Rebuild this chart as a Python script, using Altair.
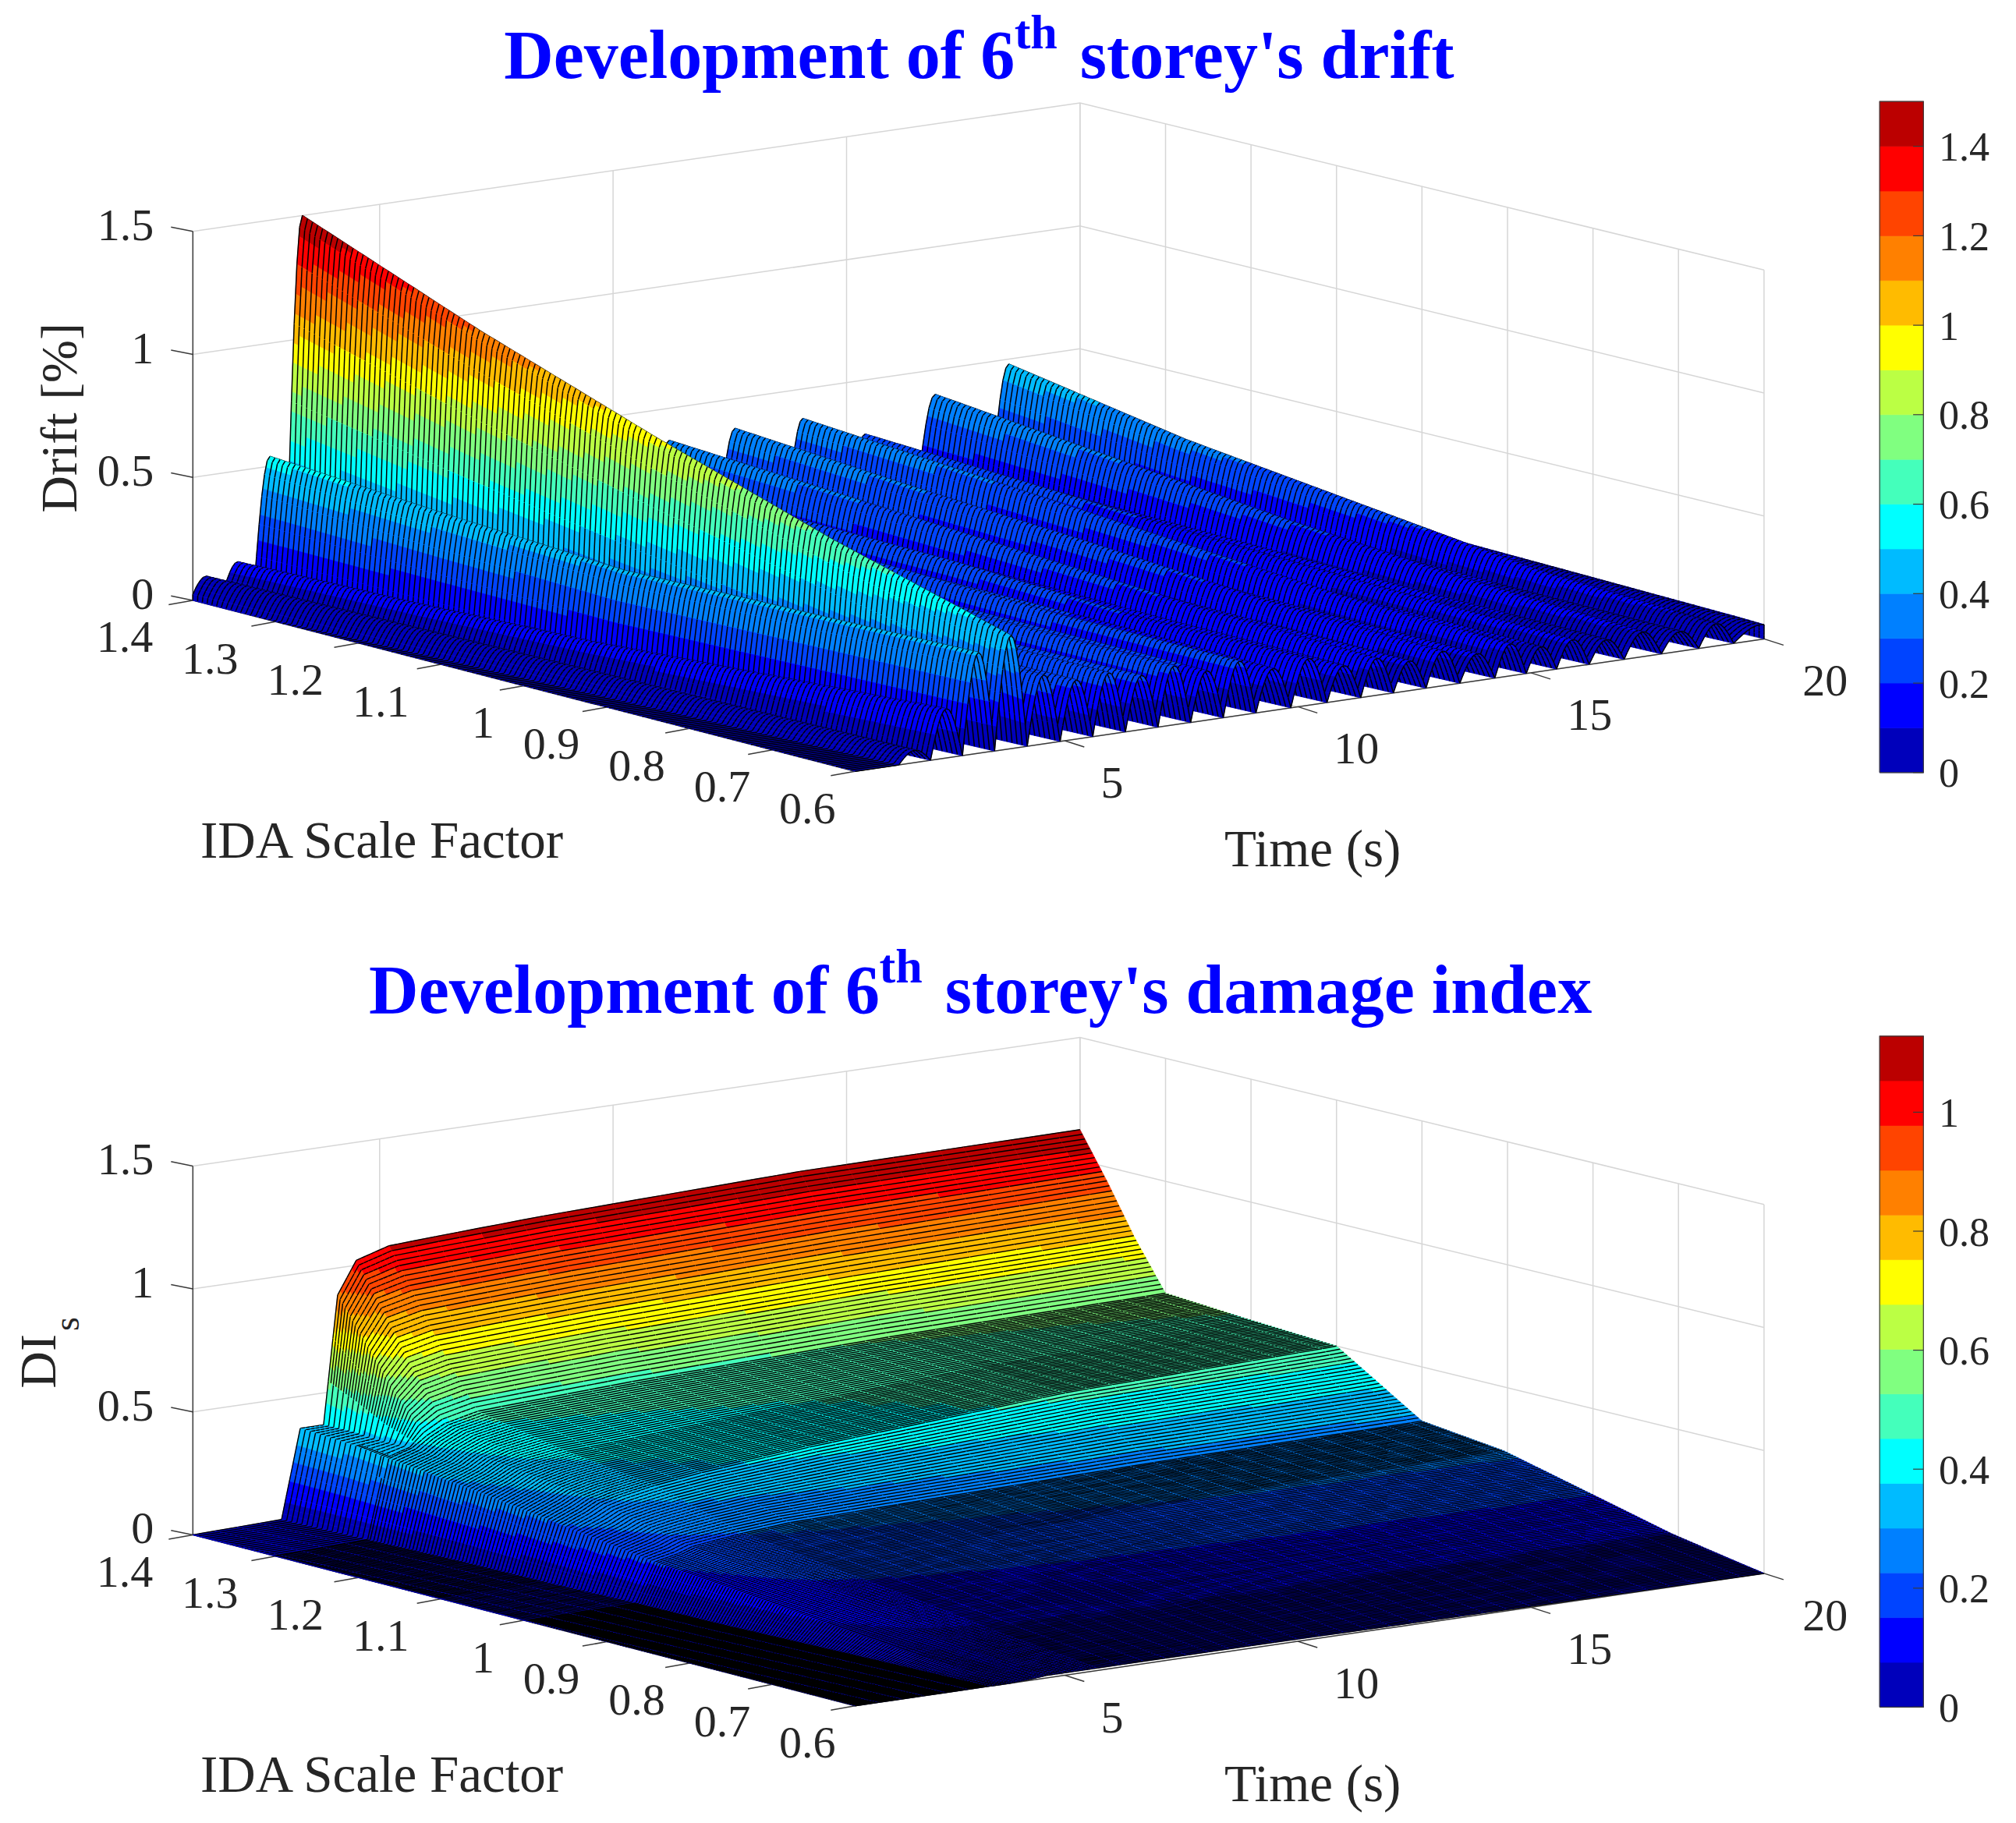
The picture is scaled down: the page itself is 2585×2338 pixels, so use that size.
import numpy as np
import pandas as pd
import altair as alt

# ---------- values ----------
JET = ["#0000BB", "#0000FF", "#0044FF", "#0080FF", "#00BBFF", "#00FFFF", "#44FFBB", "#80FF80",
       "#BBFF44", "#FFFF00", "#FFBB00", "#FF8000", "#FF4400", "#FF0000", "#BB0000"]
SCALE_TICKS = [1.4, 1.3, 1.2, 1.1, 1, 0.9, 0.8, 0.7, 0.6]
SCALE_LABELS = ["1.4", "1.3", "1.2", "1.1", "1", "0.9", "0.8", "0.7", "0.6"]
TIME_TICKS = [5, 10, 15, 20]
Z_TICKS = [0, 0.5, 1, 1.5]
Z_LABELS = ["0", "0.5", "1", "1.5"]
CB1_TICKS = [0, 0.2, 0.4, 0.6, 0.8, 1, 1.2, 1.4]
CB1_LABELS = ["0", "0.2", "0.4", "0.6", "0.8", "1", "1.2", "1.4"]
CB2_TICKS = [0, 0.2, 0.4, 0.6, 0.8, 1]
CB2_LABELS = ["0", "0.2", "0.4", "0.6", "0.8", "1"]

# drift: ridge times and ridge heights at u = 0, .25, .5, .75, 1 along the scale-factor axis
RIDGE_U = [0, 0.25, 0.5, 0.75, 1]
RIDGE_T = [1.28, 1.96, 2.65, 3.34, 4.05, 4.75, 5.45, 6.15, 6.85, 7.55, 8.25, 8.95, 9.75, 10.5,
           11.2, 11.9, 12.6, 13.35, 14.1, 14.7, 15.4, 16.1, 16.9, 17.7, 18.5, 19.2]
RIDGE_H = [
    [.09, .08, .07, .06, .05], [.13, .13, .14, .17, .20], [.54, .47, .41, .41, .41],
    [1.5, 1.2, .93, .68, .46], [.35, .33, .32, .30, .28], [.30, .28, .26, .25, .24],
    [.34, .32, .30, .27, .25], [.28, .26, .25, .23, .22], [.34, .32, .29, .26, .24],
    [.26, .25, .24, .22, .20], [.33, .30, .28, .24, .22], [.24, .23, .22, .20, .17],
    [.32, .28, .25, .20, .19], [.23, .21, .19, .16, .14], [.37, .31, .25, .19, .15],
    [.22, .19, .17, .14, .12], [.38, .31, .25, .18, .14], [.21, .18, .16, .13, .11],
    [.38, .31, .24, .17, .13], [.20, .17, .14, .12, .10], [.28, .23, .18, .14, .11],
    [.20, .17, .14, .11, .09], [.40, .31, .22, .15, .10], [.20, .16, .13, .10, .08],
    [.48, .34, .24, .14, .09], [.22, .16, .12, .09, .06],
]
RIDGE_PROFILE = [0, .26, .5, .71, .87, .97, 1, .97, .87, .71, .5, .26, 0]

# damage index: table over time knots and scale-factor stations
DI_T = [0, 1, 2.9, 3.3, 3.8, 4.1, 4.5, 5.2, 6.2, 8.5, 14, 20]
DI_U = [0, .04, .08, .125, .25, .375, .5, .62, .75, .865, 1]
DI_Z = [
    [0, 0, .01, .37, .37, .89, 1.02, 1.06, 1.07, 1.09, 1.12, 1.125],
    [0, 0, .01, .36, .37, .72, .83, .86, .87, .89, .92, .94],
    [0, 0, .01, .35, .36, .55, .63, .66, .67, .69, .72, .74],
    [0, 0, .01, .33, .36, .40, .44, .47, .48, .50, .53, .545],
    [0, 0, .01, .28, .32, .35, .37, .39, .40, .43, .49, .52],
    [0, 0, .005, .22, .26, .29, .31, .335, .36, .40, .47, .50],
    [0, 0, .005, .16, .18, .20, .21, .225, .24, .25, .27, .28],
    [0, 0, 0, .12, .14, .15, .16, .17, .18, .20, .23, .24],
    [0, 0, 0, .07, .09, .10, .11, .115, .12, .13, .14, .15],
    [0, 0, 0, .03, .04, .05, .055, .06, .065, .07, .07, .07],
    [0, 0, 0, 0, .005, .01, .01, .01, .01, .01, .005, 0],
]

# ---------- 3-D view ----------
K = 2585 / 1568
L, F, B, R = np.array([150., 467]), np.array([665., 600]), np.array([840., 367]), np.array([1372., 497])
ZPX = 191.3
DY2 = 727
U1 = np.linspace(0, 1, 141)
U2 = np.concatenate([np.linspace(0, .125, 35, endpoint=False), np.linspace(.125, .375, 50, endpoint=False),
                     np.linspace(.375, .5, 24, endpoint=False), np.linspace(.5, 1, 125)])
MESH1 = [(0, 1.01, 1.5, 0.0)]
MESH2 = [(0, .125, 1.4, 1.6), (.125, .375, 1.5, 0.0), (.375, .5, 1.4, 0.0), (.5, 1.01, 1.4, 0.0)]


def px(x, y):
    return [round(float(x) * K - 8, 1), round(float(y) * K - 8, 1)]


def proj(u, v, z, dy):
    p = L + u * (F - L) + v * (B - L) + u * v * (L + R - F - B)
    return px(p[0], p[1] - ZPX * z + dy)


def tick_v(u, t):
    t0 = 1 - 0.5 * u
    return (t - t0) / (20 - t0)


def surf_v(u, tau):
    t0 = 1 - 0.5 * u
    return min(1.0, max(0.0, (tau + 0.5 * u - t0) / (20 - t0)))


def surface(us, taus, Z, dy, step, mesh, crests=()):
    n = len(us) - 1
    feats = []
    for j in range(len(taus) - 2, -1, -1):
        if j + 1 in crests:
            pts = [proj(u, surf_v(u, taus[j + 1]), Z[j + 1][i], dy) for i, u in enumerate(us)]
            feats.append({"type": "Feature",
                          "geometry": {"type": "MultiLineString",
                                       "coordinates": [[pts[i], pts[i + 1]] for i in range(n)]},
                          "properties": {"level": -1, "w": 1.5}})
        subs = int(min(24, max(1, np.ceil(np.abs(Z[j + 1] - Z[j]).max() / step * 2.5))))
        rows = []
        for q in range(subs + 1):
            f = q / subs
            tau = taus[j] * (1 - f) + taus[j + 1] * f
            zz = Z[j] * (1 - f) + Z[j + 1] * f
            rows.append((zz, [proj(u, surf_v(u, tau), zz[i], dy) for i, u in enumerate(us)]))
        for q in range(subs - 1, -1, -1):
            za, a = rows[q]
            zb, b = rows[q + 1]
            mean = (za[:-1] + za[1:] + zb[:-1] + zb[1:]) / 4
            lev = np.clip(np.floor(mean / step), 0, 14).astype(int)
            i0 = n
            while i0 > 0:
                i1 = i0
                while i1 > 0 and lev[i1 - 1] == lev[i0 - 1]:
                    i1 -= 1
                ring = a[i1:i0 + 1] + b[i1:i0 + 1][::-1] + [a[i1]]
                feats.append({"type": "Feature", "geometry": {"type": "Polygon", "coordinates": [ring]},
                              "properties": {"level": int(lev[i0 - 1]), "w": 0.7}})
                i0 = i1
        a, b = rows[0][1], rows[-1][1]
        for lo, hi, w, gap in mesh:
            segs, last = [], None
            for i in range(n + 1):
                if not (lo <= us[i] < hi):
                    continue
                val = a[i][1] + 0.146 * a[i][0]
                if last is None or abs(val - last) >= gap:
                    segs.append([a[i], b[i]])
                    last = val
            feats.append({"type": "Feature", "geometry": {"type": "MultiLineString", "coordinates": segs},
                          "properties": {"level": -1, "w": w}})
    return feats


def drift_grid(us):
    m = len(us)
    taus = [0.0, RIDGE_T[0] - 0.34]
    Z = [np.zeros(m), np.zeros(m)]
    crests = []
    for k, t in enumerate(RIDGE_T):
        left = taus[-1]
        right = (t + RIDGE_T[k + 1]) / 2 if k + 1 < len(RIDGE_T) else 20.0
        h = np.interp(us, RIDGE_U, RIDGE_H[k])
        n = len(RIDGE_PROFILE) - 1
        for p in range(1, n + 1):
            taus.append(left + (right - left) * p / n)
            Z.append(h * RIDGE_PROFILE[p])
            if RIDGE_PROFILE[p] == max(RIDGE_PROFILE):
                crests.append(len(taus) - 1)
    return taus, np.array(Z), set(crests)


def di_grid(us):
    knots = np.array(DI_T)
    taus = []
    for a, b in zip(knots[:-1], knots[1:]):
        n = max(1, int(round((b - a) / (0.1 if (b <= 5.2 and a >= 2.9) else 0.5))))
        taus += list(np.linspace(a, b, n, endpoint=False))
    taus.append(20.0)
    col = np.array([np.interp(us, DI_U, [row[c] for row in DI_Z]) for c in range(len(knots))])
    Z = np.array([[np.interp(t, knots, col[:, i]) for i in range(len(us))] for t in taus])
    return taus, Z


def line(*pts):
    return {"type": "Feature", "geometry": {"type": "LineString", "coordinates": list(pts)}, "properties": {}}


def frame(dy):
    grid, axes = [], []
    for z in [0.5, 1, 1.5]:
        grid.append(line(proj(0, 0, z, dy), proj(0, 1, z, dy), proj(1, 1, z, dy)))
    for t in [5, 10, 15, 20]:
        v = tick_v(0, t)
        grid.append(line(proj(0, v, 0, dy), proj(0, v, 1.5, dy)))
        grid.append(line(proj(0, v, 0, dy), proj(1, tick_v(1, t), 0, dy)))
    for s in SCALE_TICKS:
        u = (1.4 - s) / 0.8
        grid.append(line(proj(u, 0, 0, dy), proj(u, 1, 0, dy), proj(u, 1, 1.5, dy)))
    axes.append(line(proj(0, 0, 1.5, dy), proj(0, 0, 0, dy), proj(1, 0, 0, dy), proj(1, 1, 0, dy)))
    for z in Z_TICKS:
        a = proj(0, 0, z, dy)
        axes.append(line(a, [a[0] - 28, a[1] - 5.6]))
    for s in SCALE_TICKS:
        a = proj((1.4 - s) / 0.8, 0, 0, dy)
        axes.append(line(a, [a[0] - 31, a[1] + 5.6]))
    for t in TIME_TICKS:
        a = proj(1, tick_v(1, t), 0, dy)
        axes.append(line(a, [a[0] + 25, a[1] + 8]))
    return grid, axes


def colorbar(dy, ticks, vmax):
    y0, y1 = 79 + dy, 601 + dy
    x0, x1 = 1462, 1496
    feats, outl = [], []
    hh = (y1 - y0) / 15
    for k in range(15):
        ring = [px(x0, y1 - hh * k), px(x1, y1 - hh * k), px(x1, y1 - hh * (k + 1)), px(x0, y1 - hh * (k + 1)), px(x0, y1 - hh * k)]
        feats.append({"type": "Feature", "geometry": {"type": "Polygon", "coordinates": [ring]},
                      "properties": {"level": k, "w": 0.7}})
    outl.append(line(px(x0, y1), px(x1, y1), px(x1, y0), px(x0, y0), px(x0, y1)))
    for t in ticks:
        y = y1 - (y1 - y0) * t / vmax
        outl.append(line(px(x1 - 8, y), px(x1, y)))
    return feats, outl


def fc(features):
    return alt.InlineData(values={"type": "FeatureCollection", "features": features},
                          format=alt.DataFormat(type="json", property="features"))


IDENT = dict(type="identity", scale=1, translate=[0, 0])
LEVEL_SCALE = alt.Scale(type="threshold", domain=list(range(15)), range=["#000000"] + JET)


def shapes(features):
    return alt.Chart(fc(features)).mark_geoshape(strokeJoin="round").encode(
        fill=alt.Fill("properties.level:Q", scale=LEVEL_SCALE, legend=None),
        stroke=alt.Stroke("properties.level:Q", scale=LEVEL_SCALE, legend=None),
        strokeWidth=alt.StrokeWidth("properties.w:Q", scale=None),
    ).project(**IDENT)


def lines(features, color, width):
    return alt.Chart(fc(features)).mark_geoshape(filled=False, stroke=color, strokeWidth=width).project(**IDENT)


def texts(rows, size, align="center", color="#262626", weight="normal", angle=0):
    df = pd.DataFrame(rows, columns=["x", "y", "label"])
    return alt.Chart(df).mark_text(font="Liberation Serif", fontSize=size, align=align, baseline="middle",
                                   color=color, fontWeight=weight, angle=angle).encode(
        longitude="x:Q", latitude="y:Q", text="label:N").project(**IDENT)


layers = []
t1, z1, crests1 = drift_grid(U1)
t2, z2 = di_grid(U2)
surfaces = [(0, U1, t1, z1, 0.1, MESH1, crests1), (DY2, U2, t2, z2, 0.075, MESH2, ())]
for dy, us, tt, zz, step, mesh, cr in surfaces:
    grid, axes = frame(dy)
    layers.append(lines(grid, "#d6d6d6", 1.5))
    layers.append(lines(axes, "#3a3a3a", 1.5))
    layers.append(shapes(surface(us, tt, zz, dy, step, mesh, cr)))

for dy, ticks, labels, vmax in [(0, CB1_TICKS, CB1_LABELS, 1.5), (DY2, CB2_TICKS, CB2_LABELS, 1.128)]:
    f, o = colorbar(dy, ticks, vmax)
    layers.append(shapes(f))
    layers.append(lines(o, "#3a3a3a", 1.2))
    rows = []
    for t, lab in zip(ticks, labels):
        y = 602.5 + dy - 522 * t / vmax
        rows.append(px(1508, y) + [lab])
    layers.append(texts(rows, 52, align="left"))

for dy in [0, DY2]:
    rows = []
    for z, lab in zip(Z_TICKS, Z_LABELS):
        p = proj(0, 0, z, dy)
        rows.append([p[0] - 50, p[1] - 6, lab])
    layers.append(texts(rows, 58, align="right"))
    rows = []
    for s, lab in zip(SCALE_TICKS, SCALE_LABELS):
        u = (1.4 - s) / 0.8
        p = proj(u, 0, 0, dy)
        rows.append([p[0] + (-31 + 16 * u) * K, p[1] + 30 * K, lab])
    layers.append(texts(rows, 58, align="right"))
    rows = []
    for t in TIME_TICKS:
        p = proj(1, tick_v(1, t), 0, dy)
        rows.append([p[0] + (28 if t < 20 else 30) * K, p[1] + 34 * K, str(t)])
    layers.append(texts(rows, 58, align="left"))
    layers.append(texts([px(297, 655 + dy) + ["IDA Scale Factor"], px(1021, 662 + dy) + ["Time (s)"]], 67))

layers.append(texts([px(47, 325) + ["Drift [%]"]], 66, angle=270))
layers.append(texts([px(31, 1059) + ["DI"]], 66, angle=270))
layers.append(texts([px(53, 1030) + ["s"]], 46, angle=270))

BLUE = "#0000FF"
layers.append(texts([px(392, 45) + ["Development of 6"], px(840, 45) + ["storey's drift"],
                     px(287, 772) + ["Development of 6"], px(735, 772) + ["storey's damage index"]],
                    88, align="left", color=BLUE, weight="bold"))
layers.append(texts([px(789, 26) + ["th"], px(684, 753) + ["th"]], 62, align="left", color=BLUE, weight="bold"))

chart = alt.layer(*layers).properties(
    width=2569, height=2322, padding=0, autosize=alt.AutoSizeParams(type="none")
).configure_view(stroke=None)

chart.save("out.html", embed_options={"renderer": "svg", "actions": False})
